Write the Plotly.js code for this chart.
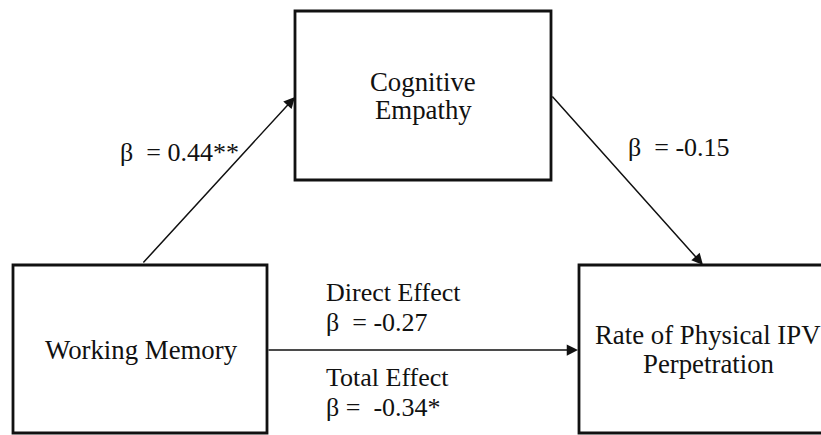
<!DOCTYPE html>
<html>
<head>
<meta charset="utf-8">
<script src="https://cdn.plot.ly/plotly-3.0.1.min.js"></script>
<style>html,body{margin:0;padding:0;background:#fff}#chart{width:821px;height:435px}</style>
</head>
<body>
<div id="chart"></div>
<script>
// Diagram content
const nodeNames = ['Working Memory', 'Cognitive', 'Empathy', 'Rate of Physical IPV', 'Perpetration'];
const pathA = ['β  = 0.44**'];
const pathB = ['β  = -0.15'];
const directEffect = ['Direct Effect', 'β  = -0.27'];
const totalEffect = ['Total Effect', 'β =  -0.34*'];

const FONT = {family: 'Liberation Serif, Times New Roman, serif', size: 26, color: '#111'};
const NODE_FONT = {family: 'Liberation Serif, Times New Roman, serif', size: 26.8, color: '#111'};
const boxLine = {color: '#111', width: 2.8};

const shapes = [
  {type: 'rect', xref: 'x', yref: 'y', x0: 13, x1: 267, y0: 265, y1: 433, line: boxLine, fillcolor: 'rgba(0,0,0,0)'},
  {type: 'rect', xref: 'x', yref: 'y', x0: 295, x1: 551, y0: 11, y1: 180, line: boxLine, fillcolor: 'rgba(0,0,0,0)'},
  {type: 'rect', xref: 'x', yref: 'y', x0: 579, x1: 840, y0: 265, y1: 433, line: boxLine, fillcolor: 'rgba(0,0,0,0)'}
];

function txt(text, x, y, align, font) {
  return {text: text, x: x, y: y, xref: 'x', yref: 'y', showarrow: false,
    xanchor: align || 'center', yanchor: 'middle', font: font || FONT};
}
function arrow(x, y, ax, ay) {
  return {x: x, y: y, ax: ax, ay: ay, xref: 'x', yref: 'y', axref: 'x', ayref: 'y',
    text: '', showarrow: true, arrowhead: 2, arrowsize: 1.5, arrowwidth: 1.5,
    arrowcolor: '#111', standoff: 0, startstandoff: 0};
}

const annotations = [
  txt(nodeNames[0], 141, 350, 'center', NODE_FONT),
  txt(nodeNames[1], 423, 82, 'center', NODE_FONT),
  txt(nodeNames[2], 423, 110, 'center', NODE_FONT),
  txt(nodeNames[3], 708, 335, 'center', NODE_FONT),
  txt(nodeNames[4], 708, 364, 'center', NODE_FONT),
  txt(pathA[0], 118, 152, 'left'),
  txt(pathB[0], 626, 147, 'left'),
  txt(directEffect[0], 324, 292, 'left'),
  txt(directEffect[1], 324, 322, 'left'),
  txt(totalEffect[0], 324, 377, 'left'),
  txt(totalEffect[1], 324, 407, 'left'),
  arrow(295, 97, 142, 264),
  arrow(703, 265, 551, 95),
  arrow(578, 350, 267, 350)
];

const layout = {
  width: 821, height: 435,
  margin: {l: 0, r: 0, t: 0, b: 0},
  paper_bgcolor: '#fff', plot_bgcolor: '#fff',
  showlegend: false,
  xaxis: {range: [0, 821], visible: false, fixedrange: true},
  yaxis: {range: [435, 0], visible: false, fixedrange: true},
  shapes: shapes,
  annotations: annotations
};

Plotly.newPlot('chart', [{x: [], y: [], type: 'scatter', mode: 'markers', hoverinfo: 'skip'}], layout, {staticPlot: true, displayModeBar: false});
</script>
</body>
</html>
